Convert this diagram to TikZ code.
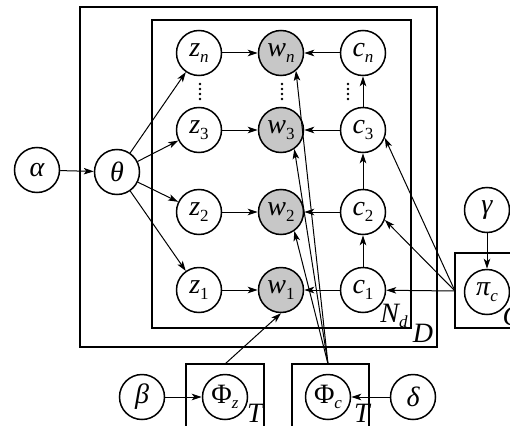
\documentclass[tikz,border=0pt]{standalone}
\usepackage{fontspec}
\setmainfont{Liberation Serif}
\usetikzlibrary{arrows.meta}
\newcommand{\sbs}[1]{\raisebox{-0.2em}{\fontsize{17}{19}\selectfont #1}}

\begin{document}
\begin{tikzpicture}[x=1pt,y=-1pt,
  var/.style={circle,draw=black,line width=1.5pt,minimum size=45pt,inner sep=0pt,font=\fontsize{28}{32}\selectfont\itshape},
  obs/.style={var,fill=black!22},
  plate/.style={draw=black,line width=1.1pt},
  edge/.style={draw=black,line width=1pt,-{Stealth[length=10pt,width=6.5pt,inset=2.5pt]}},
  lbl/.style={inner sep=0pt,font=\fontsize{28}{32}\selectfont\itshape}]
\useasboundingbox (0,0) rectangle (510,425);
\clip (0,0) rectangle (510,425);
\draw [plate] (80,7) rectangle (437,347);
\draw [plate] (152,20) rectangle (411,328);
\draw [plate] (455,253) rectangle (530,328);
\draw [plate] (186,364) rectangle (264,440);
\draw [plate] (292,364) rectangle (369,440);
\node [lbl] (lnd) at (394,316) {N\sbs{d}};
\node [lbl] (ld) at (423,333) {D};
\node [lbl] (lc) at (512,316) {C};
\node [lbl] (lt1) at (255,413) {T};
\node [lbl] (lt2) at (362,413) {T};
\node [var] (alpha) at (37,170) {α};
\node [var] (theta) at (117,172) {θ};
\node [var] (zn) at (199,53) {z\sbs{n}};
\node [var] (z3) at (199,130) {z\sbs{\upshape 3}};
\node [var] (z2) at (199,212) {z\sbs{\upshape 2}};
\node [var] (z1) at (199,290) {z\sbs{\upshape 1}};
\node [obs] (wn) at (281,53) {w\sbs{n}};
\node [obs] (w3) at (281,130) {w\sbs{\upshape 3}};
\node [obs] (w2) at (281,212) {w\sbs{\upshape 2}};
\node [obs] (w1) at (281,290) {w\sbs{\upshape 1}};
\node [var] (cn) at (363,53) {c\sbs{n}};
\node [var] (c3) at (363,130) {c\sbs{\upshape 3}};
\node [var] (c2) at (363,212) {c\sbs{\upshape 2}};
\node [var] (c1) at (363,290) {c\sbs{\upshape 1}};
\node [var] (gamma) at (487,210) {γ};
\node [var] (pic) at (487,292) {π\sbs{c}};
\node [var] (beta) at (142,397) {β};
\node [var] (phiz) at (225,397) {\upshape Φ\sbs{\itshape z}};
\node [var] (phic) at (328,397) {\upshape Φ\sbs{\itshape c}};
\node [var] (delta) at (413,397) {δ};
\foreach \x in {200,282,348}
  \foreach \y in {84,89,94,99}
    \fill (\x,\y) circle (1.3);
\coordinate (pcout) at (455,291);
\coordinate (pzout) at (225,364);
\coordinate (pcoutb) at (328,364);
\draw [edge] (alpha) -- (theta);
\foreach \i in {n,3,2,1} {
  \draw [edge] (theta) -- (z\i);
  \draw [edge] (z\i) -- (w\i);
  \draw [edge] (c\i) -- (w\i);
}
\draw [edge] (c1) -- (c2);
\draw [edge] (c2) -- (c3);
\draw [edge] (c3) -- (cn);
\draw [edge] (pcout) -- (c1);
\draw [edge] (pcout) -- (c2.-20);
\draw [edge] (pcout) -- (c3.-20);
\draw [edge] (gamma) -- (pic);
\draw [edge] (beta) -- (phiz);
\draw [edge] (delta) -- (phic);
\draw [edge] (pzout) -- (w1.south);
\draw [edge] (pcoutb) -- (w2.-55);
\draw [edge] (pcoutb) -- (w3.-55);
\draw [edge] (pcoutb) -- (wn.-50);
\end{tikzpicture}
\end{document}
